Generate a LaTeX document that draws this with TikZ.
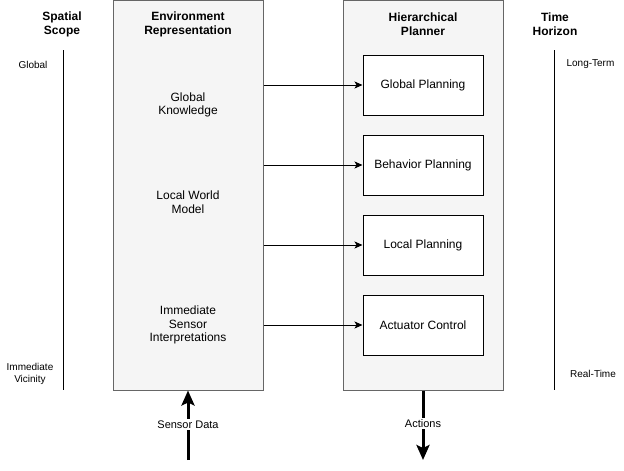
\documentclass[tikz,border=0pt]{standalone}
\usepackage{fontspec}
\setmainfont{Liberation Sans}
\usetikzlibrary{arrows.meta}
\definecolor{panelfill}{HTML}{F5F5F5}
\definecolor{panelline}{HTML}{666666}
\tikzset{
  panel/.style={draw=panelline, fill=panelfill, line width=1pt, minimum width=#1, minimum height=390pt, inner sep=0pt},
  planbox/.style={draw=black, fill=white, line width=1pt, minimum width=120pt, minimum height=60pt, inner sep=0pt, font=\fontsize{12}{14}\selectfont},
  title/.style={font=\fontsize{12}{14}\selectfont\bfseries, align=center, inner sep=0pt},
  bodytext/.style={font=\fontsize{12}{13.7}\selectfont, align=center, inner sep=0pt},
  smalltext/.style={font=\fontsize{10}{12}\selectfont, align=center, inner sep=0pt},
  thinarrow/.style={line width=1pt, -{Stealth[length=8pt,width=7pt,inset=2pt]}},
  thickarrow/.style={line width=3pt, -{Stealth[length=15pt,width=13pt,inset=3pt]}},
  scaleline/.style={line width=1pt},
  flowlabel/.style={fill=white, inner sep=1.5pt, font=\fontsize{11}{13}\selectfont}
}
\begin{document}
\begin{tikzpicture}[x=1pt,y=-1pt]
\useasboundingbox (0,0) rectangle (624,471);
% panels
\node[panel=150pt] (env) at (188,195) {};
\node[panel=160pt] (plan) at (423,195) {};
% titles
\node[title] (envt) at (188,24) {Environment\\Representation};
\node[title] (plant) at (423,24) {Hierarchical\\Planner};
\node[title] (spt) at (62,24) {Spatial\\Scope};
\node[title] (tht) at (555,24) {Time\\Horizon};
% environment texts
\node[bodytext] (gk) at (188,105) {Global\\Knowledge};
\node[bodytext] (lwm) at (188,202.5) {Local World\\Model};
\node[bodytext] (isi) at (188,325) {Immediate\\Sensor\\Interpretations};
% planner boxes
\node[planbox] (gp) at (423,85) {Global Planning};
\node[planbox] (bp) at (423,165) {Behavior Planning};
\node[planbox] (lp) at (423,245) {Local Planning};
\node[planbox] (ac) at (423,325) {Actuator Control};
% arrows
\draw[thinarrow] (env.east |- gp) -- (gp.west);
\draw[thinarrow] (env.east |- bp) -- (bp.west);
\draw[thinarrow] (env.east |- lp) -- (lp.west);
\draw[thinarrow] (env.east |- ac) -- (ac.west);
% scales
\coordinate (sstop) at (63,50);
\coordinate (ssbot) at (63,390);
\draw[scaleline] (sstop) -- (ssbot);
\coordinate (thtop) at (554,50);
\coordinate (thbot) at (554,390);
\draw[scaleline] (thtop) -- (thbot);
\node[smalltext] (glob) at (33,65) {Global};
\node[smalltext] (imv) at (30,374) {Immediate\\Vicinity};
\node[smalltext] (lt) at (590.5,64) {Long-Term};
\node[smalltext] (rt) at (593,374) {Real-Time};
% in/out
\coordinate (sdin) at (188,460);
\coordinate (actout) at (423,460);
\draw[thickarrow] (sdin) -- node[flowlabel, yshift=1pt] (sdl) {Sensor Data} (env.south);
\draw[thickarrow] (plan.south) -- node[flowlabel, yshift=2pt] (actl) {Actions} (actout);
\end{tikzpicture}
\end{document}
